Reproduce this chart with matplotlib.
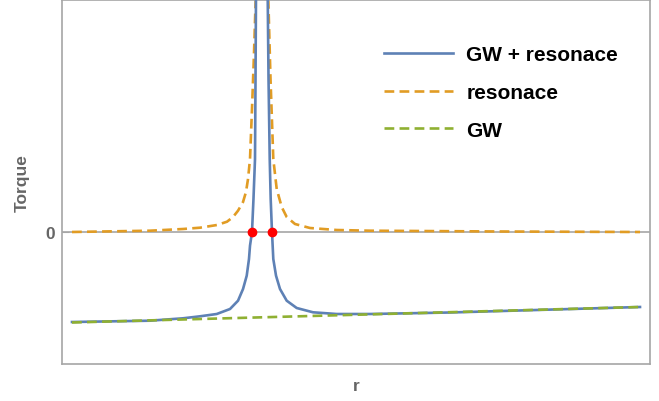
import matplotlib.pyplot as plt

# values (r in arbitrary units, torque with 0 at the axis)
r_res = [0.0, 1.373, 1.954, 2.254, 2.553, 2.729, 2.835, 2.923, 3.011, 3.063,
         3.099, 3.134, 3.169, 3.204, 3.234, 3.345, 3.456, 3.495, 3.544, 3.604,
         3.692, 3.780, 3.926, 4.190, 4.660, 5.246, 7.54, 10.0]
t_res = [0.0, 0.013, 0.03, 0.043, 0.07, 0.103, 0.15, 0.213, 0.30, 0.40,
         0.53, 0.73, 1.23, 1.78, 2.33, 5.33, 2.33, 1.53, 0.73, 0.43,
         0.25, 0.15, 0.08, 0.04, 0.02, 0.013, 0.005, 0.0]

r_sum = [0.0, 1.373, 1.954, 2.254, 2.548, 2.782, 2.923, 3.011, 3.076, 3.116,
         3.134, 3.169, 3.195, 3.222, 3.231, 3.239, 3.345, 3.446, 3.460, 3.481,
         3.498, 3.521, 3.544, 3.592, 3.662, 3.780, 3.956, 4.243, 4.660, 5.246,
         6.655, 10.0]
t_sum = [-0.90, -0.887, -0.863, -0.843, -0.82, -0.77, -0.687, -0.57, -0.437, -0.27,
         -0.137, 0.0, 0.33, 0.73, 1.53, 2.33, 5.33, 2.33, 1.53, 0.73,
         0.33, 0.0, -0.27, -0.437, -0.57, -0.687, -0.76, -0.803, -0.82, -0.82,
         -0.805, -0.75]

r_gw = [0.0, 10.0]
t_gw = [-0.905, -0.75]

r_roots = [3.169, 3.521]
t_roots = [0.0, 0.0]

blue = '#5E81B5'
orange = '#E19C24'
green = '#8FB032'
gray = '#666666'
frame = '#a6a6a6'

fig = plt.figure(figsize=(6.59, 4.02), dpi=100)
ax = fig.add_axes([62/659, 37/402, 588/659, 364/402])

ax.axhline(0, color=frame, lw=1.2, zorder=1)
ax.plot(r_sum, t_sum, color=blue, lw=1.9, label='GW + resonace', zorder=3)
ax.plot(r_res, t_res, color=orange, lw=1.9, dashes=(3.7, 2.0), label='resonace', zorder=2)
ax.plot(r_gw, t_gw, color=green, lw=1.9, dashes=(3.7, 2.0), label='GW', zorder=4)
ax.plot(r_roots, t_roots, 'o', color='red', ms=6, zorder=5)

ax.set_xlim(-0.176, 10.176)
ax.set_ylim(-1.32, 2.32)

for s in ax.spines.values():
    s.set_color(frame)
    s.set_linewidth(1.2)

ax.set_xticks([])
ax.set_yticks([0])
ax.set_yticklabels(['0'])
ax.tick_params(axis='y', direction='in', length=5, color=frame, labelcolor=gray,
               labelsize=12.5, pad=5)
for lab in ax.get_yticklabels():
    lab.set_fontweight('bold')
    lab.set_family('Liberation Sans')

fig.text(22.5/659, 1 - 183/402, 'Torque', rotation=90, ha='center', va='center',
         color=gray, fontsize=12.5, fontweight='bold', family='Liberation Sans')
fig.text(356/659, 1 - 387/402, 'r', ha='center', va='center',
         color=gray, fontsize=12.5, fontweight='bold', family='Liberation Sans')

leg = fig.legend(loc='upper left', bbox_to_anchor=(384/659, 1 - 46.5/402),
                 frameon=False, borderpad=0, borderaxespad=0,
                 handlelength=3.3, handletextpad=0.65, labelspacing=0.89,
                 prop={'family': 'Liberation Sans', 'weight': 'bold', 'size': 15})

fig.savefig('out.png', dpi=100)
